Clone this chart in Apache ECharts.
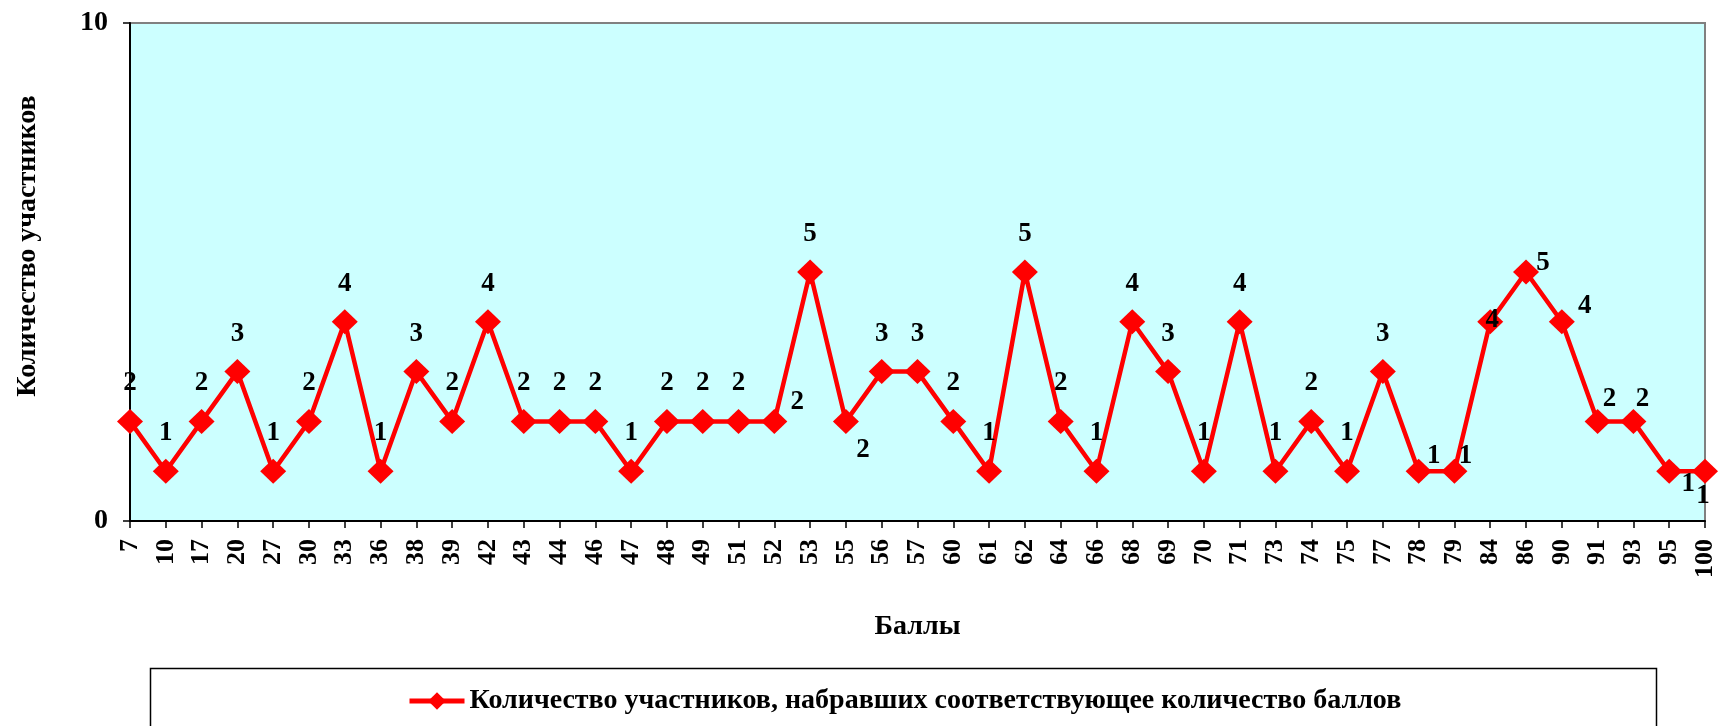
<!DOCTYPE html>
<html>
<head>
<meta charset="utf-8">
<script src="https://cdn.jsdelivr.net/npm/echarts@6/dist/echarts.min.js"></script>
<style>
html,body{margin:0;padding:0;background:#fff;}
#chart{width:1718px;height:726px;}
</style>
</head>
<body>
<div id="chart"></div>
<script>
const categories = ['7','10','17','20','27','30','33','36','38','39','42','43','44','46','47','48','49','51','52','53','55','56','57','60','61','62','64','66','68','69','70','71','73','74','75','77','78','79','84','86','90','91','93','95','100'];
const counts = [2,1,2,3,1,2,4,1,3,2,4,2,2,2,1,2,2,2,2,5,2,3,3,2,1,5,2,1,4,3,1,4,1,2,1,3,1,1,4,5,4,2,2,1,1];
const seriesName = 'Количество участников, набравших соответствующее количество баллов';
const xTitle = 'Баллы';
const yTitle = 'Количество участников';
const yMin = 0, yMax = 10;

const FONT = '"Liberation Serif", "Times New Roman", serif';

// label placement tweaks (styling only)
const labelOffsets = {
  '52': [23, -19], '55': [17, 29], '78': [15, -15], '79': [11, -15],
  '84': [2, -2], '86': [17, -9], '90': [23, -16], '91': [12, -22],
  '93': [9, -22], '95': [19, 13], '100': [-2, 25]
};

const seriesData = counts.map((v, i) => ({
  value: v,
  label: { offset: labelOffsets[categories[i]] || [0, -38] }
}));

const chart = echarts.init(document.getElementById('chart'));
chart.setOption({
  animation: false,
  backgroundColor: '#ffffff',
  grid: {
    left: 130, right: 13, top: 23, bottom: 205,
    show: true, backgroundColor: '#CCFFFF', borderColor: '#808080', borderWidth: 2
  },
  xAxis: {
    type: 'category',
    data: categories,
    boundaryGap: false,
    name: xTitle,
    nameLocation: 'middle',
    nameGap: 92,
    nameTextStyle: { fontFamily: FONT, fontWeight: 'bold', fontSize: 28, color: '#000' },
    axisLine: { lineStyle: { color: '#000', width: 2 } },
    axisTick: { show: true, length: 7, lineStyle: { color: '#000', width: 1.5 } },
    axisLabel: {
      interval: 0, rotate: 90, margin: 18,
      fontFamily: FONT, fontWeight: 'bold', fontSize: 26, color: '#000'
    },
    splitLine: { show: false }
  },
  yAxis: {
    type: 'value',
    min: yMin, max: yMax, interval: 10,
    axisLine: { show: true, lineStyle: { color: '#000', width: 2 } },
    axisTick: { show: true, length: 7, lineStyle: { color: '#000', width: 1.5 } },
    axisLabel: { margin: 22, fontFamily: FONT, fontWeight: 'bold', fontSize: 28, color: '#000' },
    splitLine: { show: false }
  },
  legend: {
    left: 402, top: 682,
    itemWidth: 55, itemHeight: 22,
    lineStyle: { width: 5 },
    textStyle: { fontFamily: FONT, fontWeight: 'bold', fontSize: 28, color: '#000' },
    data: [seriesName]
  },
  graphic: [
    {
      type: 'rect', left: 148, top: 666, silent: true,
      shape: { width: 1506, height: 100 },
      style: { fill: 'none', stroke: '#000', lineWidth: 1.5 }
    },
    {
      type: 'text', x: 28, y: 246, rotation: Math.PI / 2, silent: true,
      style: {
        text: yTitle, fontFamily: FONT, fontWeight: 'bold', fontSize: 28,
        fill: '#000', align: 'center', verticalAlign: 'middle'
      }
    }
  ],
  series: [{
    name: seriesName,
    type: 'line',
    data: seriesData,
    symbol: 'diamond',
    symbolSize: [26, 25],
    itemStyle: { color: '#FF0000' },
    lineStyle: { color: '#FF0000', width: 4.5 },
    label: {
      show: true, position: 'inside',
      fontFamily: FONT, fontWeight: 'bold', fontSize: 27, color: '#000'
    },
    emphasis: { disabled: true }
  }]
});
</script>
</body>
</html>
